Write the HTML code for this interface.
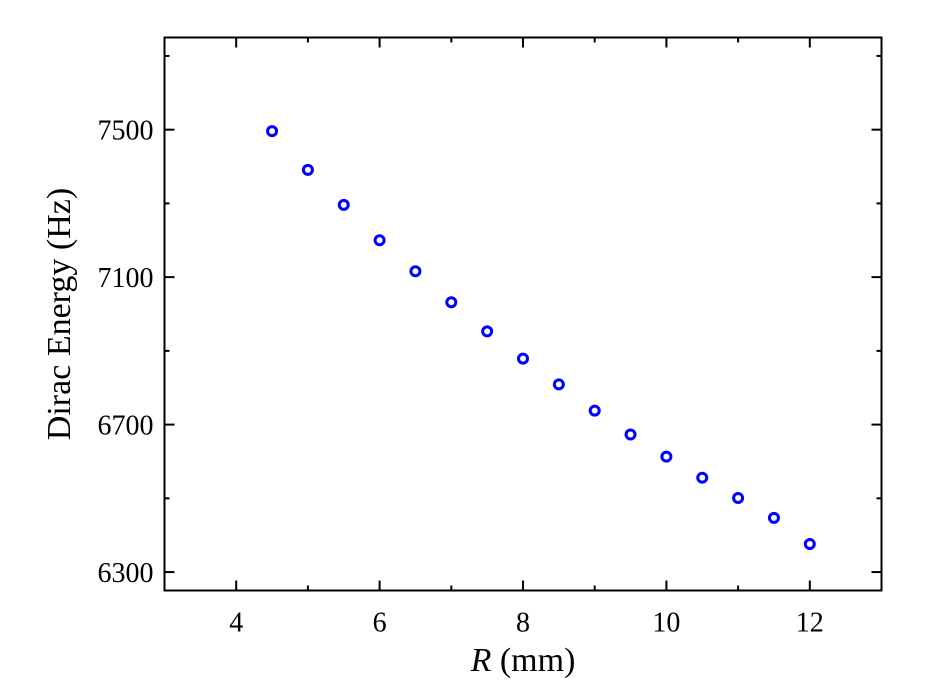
<!DOCTYPE html>
<html><head><meta charset="utf-8"><style>
html,body{margin:0;padding:0;background:#fff;}
svg{display:block;font-family:"Liberation Serif",serif;}
</style></head><body>
<svg id="chart" width="931" height="683" viewBox="0 0 931 683" xmlns="http://www.w3.org/2000/svg">
<rect x="0" y="0" width="931" height="683" fill="#fff"/>
<g id="ticks"></g>
<g id="points"></g>
<rect x="164.5" y="37.5" width="717" height="553" fill="none" stroke="#000" stroke-width="2"/>
<text transform="translate(70,314) rotate(-90)" text-anchor="middle" font-size="34">Dirac Energy (Hz)</text>
<text x="523" y="671" text-anchor="middle" font-size="34"><tspan font-style="italic">R</tspan> (mm)</text>
</svg>
<script>
const xValues=[4.5,5,5.5,6,6.5,7,7.5,8,8.5,9,9.5,10,10.5,11,11.5,12];
const yValues=[7496,7391,7296,7200,7116,7032,6953,6879,6809,6738,6673,6613,6556,6501,6447,6376];
const xTickLabels=[4,6,8,10,12];
const xMinorTicks=[5,7,9,11];
const yTickLabels=[6300,6700,7100,7500];
const yMinorTicks=[6500,6900,7300,7700];
const L=164.5,R=881.5,T=37.5,B=590.5;
const X0=3,X1=13,Y0=6250,Y1=7750;
const sx=v=>L+(v-X0)/(X1-X0)*(R-L);
const sy=v=>B-(v-Y0)/(Y1-Y0)*(B-T);
const NS="http://www.w3.org/2000/svg";
const tg=document.getElementById('ticks'),pg=document.getElementById('points');
function line(x1,y1,x2,y2){const l=document.createElementNS(NS,'line');l.setAttribute('x1',x1);l.setAttribute('y1',y1);l.setAttribute('x2',x2);l.setAttribute('y2',y2);l.setAttribute('stroke','#000');l.setAttribute('stroke-width','2');tg.appendChild(l);return l;}
function txt(x,y,s,anchor){const t=document.createElementNS(NS,'text');t.setAttribute('x',x);t.setAttribute('y',y);t.setAttribute('text-anchor',anchor);t.setAttribute('font-size','28');t.textContent=s;tg.appendChild(t);return t;}
xTickLabels.forEach(v=>{const x=sx(v);
let a=line(x,B,x,B-10);
let b=line(x,T,x,T+10);
let t=txt(x,B+41,String(v),'middle');});
xMinorTicks.forEach(v=>{const x=sx(v);
let a=line(x,B,x,B-5);
let b=line(x,T,x,T+5);});
yTickLabels.forEach(v=>{const y=sy(v);
let a=line(L,y,L+10,y);
let b=line(R,y,R-10,y);
let t=txt(L-11,y+10,String(v),'end');});
yMinorTicks.forEach(v=>{const y=sy(v);
let a=line(L,y,L+5,y);
let b=line(R,y,R-5,y);});
xValues.forEach((xv,i)=>{const c=document.createElementNS(NS,'circle');
c.setAttribute('cx',sx(xv));c.setAttribute('cy',sy(yValues[i]));c.setAttribute('r','4.5');
c.setAttribute('fill','none');c.setAttribute('stroke','#0000ff');c.setAttribute('stroke-width','3');


pg.appendChild(c);});
</script>
</body></html>
